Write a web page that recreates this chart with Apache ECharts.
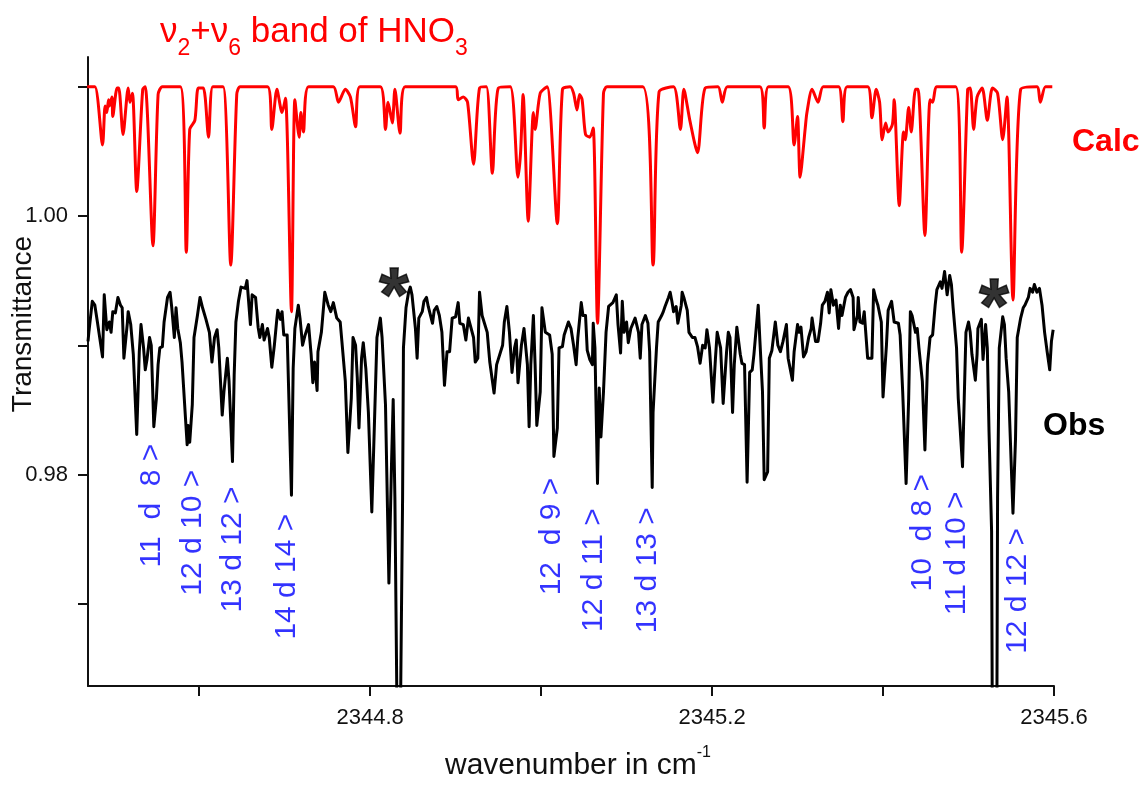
<!DOCTYPE html>
<html>
<head>
<meta charset="utf-8">
<title>HNO3 nu2+nu6 band</title>
<script src="https://cdn.jsdelivr.net/npm/echarts@6/dist/echarts.min.js"></script>
<style>
  html, body { margin: 0; padding: 0; background: #ffffff; }
  #chart { width: 1146px; height: 788px; }
</style>
</head>
<body>
<div id="chart"></div>
<script>
// Calculated spectrum (wavenumber cm-1, transmittance), offset above the observed trace
const calcSpectrum = [
  [2344.469,1.0100],[2344.478,1.0100],[2344.487,1.0055],[2344.490,1.0085],[2344.492,1.0080],[2344.494,1.0090],[2344.495,1.0085],[2344.498,1.0092],[2344.499,1.0077],[2344.504,1.0099],
  [2344.506,1.0099],[2344.511,1.0063],[2344.517,1.0099],[2344.519,1.0088],[2344.522,1.0095],[2344.527,1.0019],[2344.534,1.0098],[2344.537,1.0100],[2344.546,0.9977],[2344.552,1.0094],
  [2344.557,1.0100],[2344.578,1.0100],[2344.585,0.9972],[2344.589,1.0067],[2344.595,1.0074],[2344.599,1.0099],[2344.605,1.0099],[2344.611,1.0061],[2344.616,1.0100],[2344.628,1.0100],
  [2344.637,0.9962],[2344.644,1.0094],[2344.648,1.0100],[2344.680,1.0100],[2344.685,1.0067],[2344.691,1.0098],[2344.697,1.0080],[2344.701,1.0091],[2344.708,0.9926],[2344.712,1.0090],
  [2344.717,1.0061],[2344.719,1.0080],[2344.722,1.0065],[2344.728,1.0100],[2344.757,1.0100],[2344.763,1.0088],[2344.771,1.0098],[2344.777,1.0092],[2344.783,1.0069],[2344.788,1.0100],
  [2344.812,1.0100],[2344.818,1.0067],[2344.821,1.0088],[2344.826,1.0072],[2344.829,1.0098],[2344.835,1.0064],[2344.841,1.0100],[2344.900,1.0100],[2344.903,1.0090],[2344.909,1.0092],
  [2344.914,1.0088],[2344.921,1.0040],[2344.928,1.0099],[2344.936,1.0100],[2344.943,1.0033],[2344.950,1.0099],[2344.964,1.0100],[2344.973,1.0030],[2344.976,1.0049],[2344.979,1.0094],
  [2344.985,0.9996],[2344.991,1.0080],[2344.993,1.0067],[2344.999,1.0095],[2345.007,1.0100],[2345.019,0.9994],[2345.025,1.0098],[2345.034,1.0100],[2345.038,1.0095],[2345.042,1.0082],
  [2345.045,1.0094],[2345.048,1.0090],[2345.052,1.0063],[2345.057,1.0061],[2345.061,1.0068],[2345.066,0.9917],[2345.073,1.0095],[2345.077,1.0100],[2345.119,1.0100],[2345.131,0.9962],
  [2345.138,1.0096],[2345.155,1.0100],[2345.163,1.0067],[2345.167,1.0098],[2345.174,1.0074],[2345.183,1.0049],[2345.192,1.0099],[2345.207,1.0100],[2345.212,1.0088],[2345.218,1.0100],
  [2345.256,1.0100],[2345.261,1.0068],[2345.266,1.0100],[2345.289,1.0100],[2345.296,1.0055],[2345.300,1.0077],[2345.303,1.0030],[2345.309,1.0068],[2345.311,1.0080],[2345.317,1.0098],
  [2345.324,1.0088],[2345.330,1.0100],[2345.348,1.0100],[2345.353,1.0073],[2345.358,1.0100],[2345.382,1.0100],[2345.387,1.0076],[2345.392,1.0098],[2345.396,1.0088],[2345.399,1.0059],
  [2345.403,1.0072],[2345.406,1.0065],[2345.411,1.0071],[2345.413,1.0090],[2345.419,1.0008],[2345.424,1.0065],[2345.426,1.0059],[2345.430,1.0084],[2345.433,1.0065],[2345.438,1.0098],
  [2345.441,1.0098],[2345.449,0.9985],[2345.455,1.0090],[2345.458,1.0088],[2345.463,1.0100],[2345.485,1.0100],[2345.492,0.9972],[2345.499,1.0098],[2345.502,1.0099],[2345.506,1.0067],
  [2345.510,1.0092],[2345.516,1.0099],[2345.522,1.0074],[2345.528,1.0099],[2345.534,1.0095],[2345.540,1.0059],[2345.545,1.0092],[2345.552,0.9935],[2345.561,1.0098],[2345.580,1.0100],
  [2345.584,1.0088],[2345.590,1.0100],[2345.598,1.0100]
];

// Observed spectrum (wavenumber cm-1, transmittance)
const obsSpectrum = [
  [2344.470,0.9903],[2344.471,0.9910],[2344.475,0.9934],[2344.478,0.9931],[2344.481,0.9918],[2344.483,0.9917],[2344.487,0.9891],[2344.489,0.9939],[2344.492,0.9912],[2344.495,0.9918],
  [2344.497,0.9910],[2344.499,0.9926],[2344.502,0.9925],[2344.505,0.9937],[2344.508,0.9931],[2344.510,0.9929],[2344.512,0.9890],[2344.516,0.9917],[2344.517,0.9926],[2344.520,0.9916],
  [2344.523,0.9893],[2344.527,0.9831],[2344.530,0.9895],[2344.532,0.9916],[2344.535,0.9898],[2344.537,0.9881],[2344.539,0.9889],[2344.542,0.9906],[2344.544,0.9900],[2344.547,0.9837],
  [2344.550,0.9859],[2344.552,0.9885],[2344.554,0.9898],[2344.557,0.9899],[2344.559,0.9918],[2344.563,0.9937],[2344.564,0.9937],[2344.566,0.9941],[2344.568,0.9929],[2344.571,0.9906],
  [2344.573,0.9929],[2344.575,0.9913],[2344.578,0.9902],[2344.580,0.9887],[2344.584,0.9844],[2344.586,0.9823],[2344.587,0.9838],[2344.589,0.9825],[2344.592,0.9854],[2344.594,0.9906],
  [2344.598,0.9923],[2344.601,0.9937],[2344.604,0.9929],[2344.608,0.9920],[2344.612,0.9910],[2344.615,0.9887],[2344.618,0.9906],[2344.621,0.9912],[2344.623,0.9898],[2344.627,0.9846],
  [2344.629,0.9864],[2344.633,0.9890],[2344.635,0.9872],[2344.639,0.9810],[2344.641,0.9877],[2344.643,0.9918],[2344.646,0.9934],[2344.649,0.9945],[2344.654,0.9944],[2344.656,0.9950],
  [2344.660,0.9916],[2344.662,0.9939],[2344.666,0.9937],[2344.669,0.9914],[2344.671,0.9906],[2344.674,0.9916],[2344.676,0.9904],[2344.680,0.9913],[2344.682,0.9906],[2344.685,0.9883],
  [2344.688,0.9900],[2344.691,0.9921],[2344.692,0.9927],[2344.695,0.9920],[2344.697,0.9926],[2344.699,0.9908],[2344.703,0.9908],[2344.708,0.9784],[2344.710,0.9882],[2344.712,0.9913],
  [2344.716,0.9931],[2344.718,0.9921],[2344.721,0.9900],[2344.724,0.9908],[2344.728,0.9916],[2344.731,0.9893],[2344.733,0.9871],[2344.735,0.9887],[2344.738,0.9865],[2344.739,0.9895],
  [2344.743,0.9910],[2344.747,0.9941],[2344.751,0.9931],[2344.754,0.9926],[2344.757,0.9933],[2344.761,0.9921],[2344.765,0.9918],[2344.767,0.9903],[2344.771,0.9872],[2344.774,0.9817],
  [2344.778,0.9859],[2344.780,0.9906],[2344.783,0.9900],[2344.785,0.9875],[2344.787,0.9836],[2344.790,0.9890],[2344.792,0.9902],[2344.795,0.9882],[2344.798,0.9848],[2344.802,0.9771],
  [2344.805,0.9838],[2344.808,0.9906],[2344.812,0.9921],[2344.814,0.9906],[2344.818,0.9854],[2344.822,0.9716],[2344.825,0.9807],[2344.827,0.9858],[2344.829,0.9782],[2344.832,0.9580],
  [2344.835,0.9580],[2344.838,0.9782],[2344.839,0.9898],[2344.842,0.9929],[2344.845,0.9941],[2344.847,0.9945],[2344.849,0.9939],[2344.853,0.9913],[2344.855,0.9890],[2344.857,0.9921],
  [2344.861,0.9926],[2344.863,0.9934],[2344.866,0.9937],[2344.868,0.9930],[2344.870,0.9929],[2344.873,0.9917],[2344.875,0.9927],[2344.878,0.9930],[2344.881,0.9923],[2344.884,0.9910],
  [2344.887,0.9869],[2344.890,0.9895],[2344.893,0.9895],[2344.896,0.9921],[2344.900,0.9922],[2344.903,0.9933],[2344.905,0.9917],[2344.909,0.9916],[2344.912,0.9904],[2344.915,0.9921],
  [2344.917,0.9922],[2344.921,0.9906],[2344.923,0.9887],[2344.926,0.9890],[2344.928,0.9941],[2344.931,0.9923],[2344.933,0.9923],[2344.937,0.9910],[2344.940,0.9887],[2344.945,0.9863],
  [2344.948,0.9885],[2344.950,0.9885],[2344.955,0.9900],[2344.957,0.9918],[2344.960,0.9930],[2344.963,0.9910],[2344.966,0.9879],[2344.969,0.9898],[2344.971,0.9904],[2344.973,0.9871],
  [2344.977,0.9900],[2344.980,0.9913],[2344.984,0.9885],[2344.986,0.9837],[2344.988,0.9885],[2344.991,0.9923],[2344.993,0.9885],[2344.995,0.9838],[2344.999,0.9864],[2345.001,0.9929],
  [2345.005,0.9910],[2345.010,0.9908],[2345.013,0.9893],[2345.015,0.9814],[2345.019,0.9836],[2345.021,0.9898],[2345.025,0.9899],[2345.027,0.9908],[2345.032,0.9918],[2345.035,0.9913],
  [2345.038,0.9900],[2345.041,0.9885],[2345.043,0.9906],[2345.047,0.9933],[2345.049,0.9923],[2345.052,0.9923],[2345.054,0.9896],[2345.057,0.9889],[2345.060,0.9885],[2345.061,0.9917],
  [2345.063,0.9898],[2345.066,0.9793],[2345.068,0.9867],[2345.070,0.9829],[2345.073,0.9864],[2345.076,0.9910],[2345.079,0.9930],[2345.081,0.9929],[2345.084,0.9933],[2345.088,0.9939],
  [2345.090,0.9916],[2345.093,0.9894],[2345.095,0.9934],[2345.097,0.9910],[2345.100,0.9918],[2345.102,0.9902],[2345.105,0.9913],[2345.110,0.9921],[2345.114,0.9910],[2345.116,0.9890],
  [2345.118,0.9916],[2345.122,0.9923],[2345.125,0.9917],[2345.127,0.9895],[2345.130,0.9790],[2345.131,0.9848],[2345.135,0.9898],[2345.137,0.9918],[2345.141,0.9923],[2345.143,0.9926],
  [2345.145,0.9930],[2345.149,0.9937],[2345.151,0.9941],[2345.153,0.9934],[2345.155,0.9926],[2345.158,0.9930],[2345.160,0.9917],[2345.164,0.9931],[2345.165,0.9941],[2345.167,0.9937],
  [2345.171,0.9927],[2345.173,0.9910],[2345.177,0.9906],[2345.180,0.9906],[2345.183,0.9899],[2345.186,0.9886],[2345.189,0.9900],[2345.192,0.9898],[2345.194,0.9912],[2345.197,0.9898],
  [2345.201,0.9856],[2345.204,0.9890],[2345.206,0.9910],[2345.210,0.9898],[2345.213,0.9855],[2345.217,0.9895],[2345.219,0.9910],[2345.221,0.9906],[2345.224,0.9848],[2345.226,0.9885],
  [2345.229,0.9914],[2345.233,0.9893],[2345.235,0.9886],[2345.238,0.9885],[2345.241,0.9794],[2345.244,0.9879],[2345.247,0.9881],[2345.249,0.9893],[2345.254,0.9931],[2345.256,0.9903],
  [2345.259,0.9864],[2345.261,0.9796],[2345.265,0.9802],[2345.267,0.9890],[2345.270,0.9896],[2345.274,0.9918],[2345.277,0.9900],[2345.280,0.9895],[2345.283,0.9903],[2345.287,0.9916],
  [2345.289,0.9890],[2345.294,0.9873],[2345.296,0.9895],[2345.300,0.9916],[2345.302,0.9910],[2345.304,0.9914],[2345.307,0.9891],[2345.310,0.9895],[2345.313,0.9906],[2345.316,0.9913],
  [2345.317,0.9921],[2345.321,0.9903],[2345.324,0.9903],[2345.327,0.9917],[2345.329,0.9931],[2345.332,0.9934],[2345.335,0.9941],[2345.337,0.9925],[2345.339,0.9943],[2345.342,0.9931],
  [2345.345,0.9935],[2345.348,0.9913],[2345.350,0.9931],[2345.352,0.9923],[2345.356,0.9937],[2345.359,0.9941],[2345.362,0.9943],[2345.365,0.9937],[2345.366,0.9912],[2345.370,0.9923],
  [2345.371,0.9937],[2345.373,0.9918],[2345.376,0.9917],[2345.378,0.9926],[2345.382,0.9890],[2345.384,0.9891],[2345.387,0.9890],[2345.389,0.9943],[2345.392,0.9935],[2345.394,0.9931],
  [2345.398,0.9918],[2345.400,0.9860],[2345.404,0.9900],[2345.406,0.9927],[2345.410,0.9934],[2345.413,0.9918],[2345.418,0.9917],[2345.420,0.9908],[2345.423,0.9864],[2345.427,0.9793],
  [2345.430,0.9859],[2345.432,0.9926],[2345.434,0.9923],[2345.438,0.9910],[2345.440,0.9913],[2345.442,0.9898],[2345.446,0.9872],[2345.449,0.9819],[2345.452,0.9885],[2345.455,0.9906],
  [2345.458,0.9908],[2345.461,0.9931],[2345.463,0.9943],[2345.467,0.9949],[2345.469,0.9944],[2345.472,0.9957],[2345.475,0.9939],[2345.478,0.9954],[2345.480,0.9947],[2345.482,0.9929],
  [2345.486,0.9898],[2345.488,0.9859],[2345.493,0.9806],[2345.495,0.9859],[2345.497,0.9910],[2345.500,0.9918],[2345.502,0.9910],[2345.504,0.9893],[2345.508,0.9873],[2345.510,0.9893],
  [2345.511,0.9913],[2345.515,0.9920],[2345.517,0.9889],[2345.520,0.9916],[2345.522,0.9898],[2345.524,0.9833],[2345.527,0.9756],[2345.528,0.9580],[2345.533,0.9580],[2345.534,0.9782],
  [2345.536,0.9898],[2345.540,0.9922],[2345.542,0.9916],[2345.544,0.9890],[2345.547,0.9864],[2345.550,0.9807],[2345.552,0.9770],[2345.555,0.9828],[2345.557,0.9906],[2345.561,0.9921],
  [2345.564,0.9929],[2345.566,0.9931],[2345.570,0.9937],[2345.572,0.9944],[2345.575,0.9941],[2345.577,0.9947],[2345.580,0.9941],[2345.583,0.9944],[2345.586,0.9931],[2345.589,0.9910],
  [2345.592,0.9895],[2345.595,0.9881],[2345.597,0.9903],[2345.599,0.9912]
];

// Line assignments written under the observed lines
const lineLabels = ['11  d  8 >', '12 d 10 >', '13 d 12 >', '14 d 14 >', '12  d 9 >',
                    '12 d 11 >', '13 d 13 >', '10  d 8 >', '11 d 10 >', '12 d 12 >'];
const labelWavenumbers = [2344.544, 2344.592, 2344.639, 2344.703, 2345.013,
                          2345.062, 2345.125, 2345.446, 2345.486, 2345.558];
const labelTransmittance = [0.9776, 0.9755, 0.9742, 0.9721, 0.9752,
                            0.9726, 0.9726, 0.9755, 0.9739, 0.9710];

// Asterisks over the two saturated lines
const starWavenumbers = [2344.828, 2345.530];
const starTransmittance = [0.9936, 0.9927];

// Axis ticks and labels
const xTicks = [2344.6, 2344.8, 2345.0, 2345.2, 2345.4, 2345.6];
const xTickLabels = [2344.8, 2345.2, 2345.6];
const yTicks = [0.97, 0.98, 0.99, 1.00, 1.01];
const yTickLabels = [0.98, 1.00];

const RED = '#ff0000';
const BLUE = '#0000ff';
const INK = '#111111';
const SANS = '"Liberation Sans", Arial, sans-serif';

const chart = echarts.init(document.getElementById('chart'), null, { renderer: 'canvas' });

const labelData = lineLabels.map((t, i) => ({ name: t, value: [labelWavenumbers[i], labelTransmittance[i]] }));
const starData = starWavenumbers.map((w, i) => ({ name: '*', value: [w, starTransmittance[i]] }));

chart.setOption({
  backgroundColor: '#ffffff',
  animation: false,
  title: {
    text: '{n|ν}{s|2}{n|+ν}{s|6}{n| band of HNO}{s|3}',
    left: 160,
    top: 5,
    padding: 0,
    textStyle: {
      fontWeight: 'normal',
      rich: {
        n: { fontSize: 35, color: RED, fontFamily: SANS, fontWeight: 'normal' },
        s: { fontSize: 23, color: RED, fontFamily: SANS, fontWeight: 'normal', padding: [32, 0, 0, 0] }
      }
    }
  },
  grid: { left: 88, right: 92, top: 57, bottom: 102, containLabel: false },
  xAxis: {
    type: 'value',
    min: 2344.47,
    max: 2345.6,
    splitLine: { show: false },
    axisLine: { onZero: false, lineStyle: { color: INK, width: 2 } },
    axisTick: { customValues: xTicks, length: 10, lineStyle: { color: INK, width: 2 } },
    axisLabel: {
      customValues: xTickLabels,
      formatter: v => v.toFixed(1),
      color: INK,
      fontSize: 22,
      fontFamily: SANS,
      margin: 21
    }
  },
  yAxis: {
    type: 'value',
    min: 0.96364,
    max: 1.0123,
    splitLine: { show: false },
    axisLine: { onZero: false, lineStyle: { color: INK, width: 2 } },
    axisTick: { customValues: yTicks, length: 10, lineStyle: { color: INK, width: 2 } },
    axisLabel: {
      customValues: yTickLabels,
      formatter: v => v.toFixed(2),
      color: INK,
      fontSize: 22,
      fontFamily: SANS,
      margin: 20
    }
  },
  graphic: [
    {
      type: 'text', x: 23, y: 324, rotation: Math.PI / 2,
      style: { text: 'Transmittance', fill: INK, font: '28px ' + SANS,
               align: 'center', verticalAlign: 'middle', textAlign: 'center', textVerticalAlign: 'middle' }
    },
    {
      type: 'text', x: 578, y: 766,
      style: {
        text: '{a|wavenumber in cm}{b|-1}',
        fill: INK, align: 'center', verticalAlign: 'middle', textAlign: 'center', textVerticalAlign: 'middle',
        rich: {
          a: { fontSize: 30, fontFamily: SANS, fill: INK, color: INK },
          b: { fontSize: 16, fontFamily: SANS, fill: INK, color: INK, padding: [0, 0, 26, 0] }
        }
      }
    },
    {
      type: 'text', x: 1072, y: 126,
      style: { text: 'Calc', fill: RED, font: 'bold 32px ' + SANS, align: 'left', verticalAlign: 'top',
               textAlign: 'left', textVerticalAlign: 'top' }
    },
    {
      type: 'text', x: 1043, y: 410,
      style: { text: 'Obs', fill: '#000000', font: 'bold 32px ' + SANS, align: 'left', verticalAlign: 'top',
               textAlign: 'left', textVerticalAlign: 'top' }
    }
  ],
  series: [
    {
      name: 'Calc',
      type: 'line',
      data: calcSpectrum,
      showSymbol: false,
      symbol: 'none',
      smooth: 0.25,
      clip: true,
      lineStyle: { color: RED, width: 3, join: 'round' },
      z: 3
    },
    {
      name: 'Obs',
      type: 'line',
      data: obsSpectrum,
      showSymbol: false,
      symbol: 'none',
      clip: true,
      lineStyle: { color: '#000000', width: 3, join: 'round' },
      z: 2
    },
    {
      name: 'assignments',
      type: 'scatter',
      data: labelData,
      symbolSize: 1,
      itemStyle: { color: 'rgba(0,0,0,0)' },
      silent: true,
      label: {
        show: true,
        position: 'inside',
        rotate: 90,
        formatter: '{b}',
        color: BLUE,
        fontSize: 30,
        fontFamily: SANS
      },
      z: 5
    },
    {
      name: 'saturated',
      type: 'scatter',
      data: starData,
      symbolSize: 1,
      itemStyle: { color: 'rgba(0,0,0,0)' },
      silent: true,
      label: {
        show: true,
        position: 'inside',
        formatter: '{b}',
        color: '#000000',
        textBorderColor: '#000000',
        textBorderWidth: 1.5,
        fontSize: 76,
        fontWeight: 'bold',
        fontFamily: SANS
      },
      z: 5
    }
  ]
});
</script>
</body>
</html>
